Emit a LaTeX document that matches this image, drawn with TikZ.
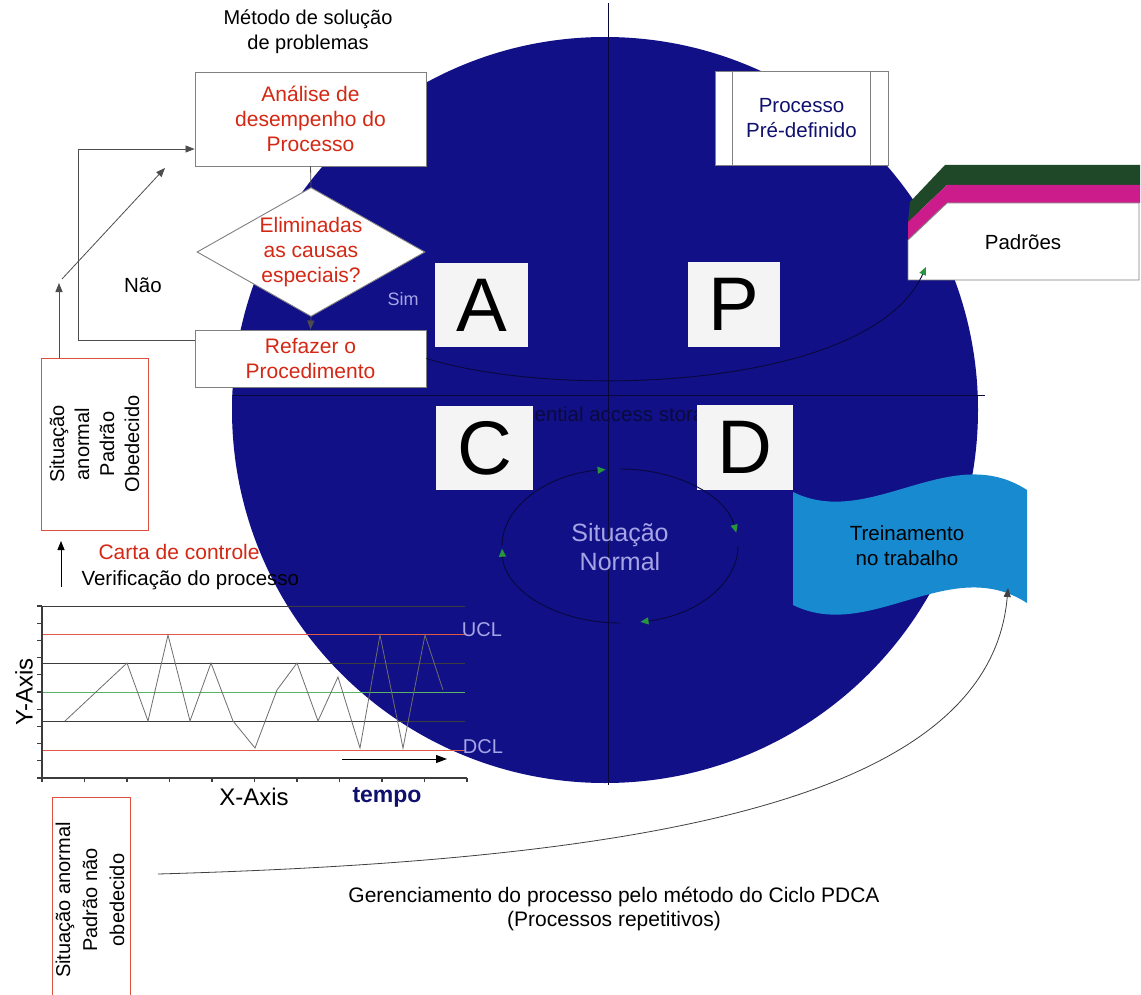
\documentclass[tikz,border=0pt]{standalone}
\usepackage{fontspec}
\setmainfont{Liberation Sans}
\usetikzlibrary{arrows.meta,shapes.geometric,calc}
\definecolor{navy}{RGB}{18,16,135}
\definecolor{navyline}{RGB}{8,8,60}
\definecolor{redtxt}{RGB}{212,40,20}
\definecolor{boxgray}{RGB}{128,128,128}
\definecolor{lilac}{RGB}{165,165,230}
\definecolor{darknavy}{RGB}{16,16,110}
\definecolor{tipgreen}{RGB}{40,150,60}
\definecolor{bandgreen}{RGB}{30,72,40}
\definecolor{bandmag}{RGB}{204,28,140}
\definecolor{wavecol}{RGB}{24,138,208}
\definecolor{redline}{RGB}{224,90,70}
\definecolor{greenline}{RGB}{90,180,100}
\definecolor{redbox}{RGB}{220,80,60}
\definecolor{lettbg}{RGB}{244,244,244}
\definecolor{gridcol}{RGB}{60,60,60}
\definecolor{zigcol}{RGB}{110,110,110}
\definecolor{hidtxt}{RGB}{10,10,62}
\newcommand{\myfs}[2]{\fontsize{#1}{#2}\selectfont}
\begin{document}
\begin{tikzpicture}[x=1pt,y=-1pt,
  box/.style={draw=boxgray, fill=white, line width=0.9pt, inner sep=0pt, align=center},
  redt/.style={text=redtxt, font=\myfs{21}{25}, align=center},
  blk/.style={text=black, font=\myfs{20.5}{25}, align=center},
  lil/.style={text=lilac, font=\myfs{20}{25}, align=center},
  lett/.style={fill=lettbg, inner sep=0pt, font=\myfs{76}{76}},
  conn/.style={draw=boxgray!60!black, line width=0.8pt},
  tip/.style={-{Triangle[length=9pt,width=7pt]}},
  gtip/.style={-{Triangle[length=8pt,width=7pt,color=tipgreen]}},
  cyc/.style={draw=navyline, line width=0.9pt, gtip},
  grid/.style={draw=gridcol, line width=0.8pt},
  axis/.style={draw=gridcol, line width=1.1pt},
  zig/.style={draw=zigcol, line width=0.8pt},
  redbx/.style={draw=redbox, fill=white, line width=0.9pt, inner sep=0pt}
]
\useasboundingbox[fill=white] (0,0) rectangle (1141,995);

% big circle
\fill[navy] (605,410) circle[radius=373pt];
\draw[navyline, line width=1pt] (608,3) -- (608,785);
\draw[navyline, line width=1pt] (232,395) -- (985,395);

% hidden text
\node[text=hidtxt, font=\myfs{20.5}{25}] (hid) at (607,416) {Sequential access storage};

% PDCA letters
\node[lett, minimum width=93pt, minimum height=84pt] (A) at (481.5,305) {A};
\node[lett, minimum width=92pt, minimum height=85pt] (P) at (734,304.5) {P};
\node[lett, minimum width=97pt, minimum height=84pt] (C) at (484.5,448) {C};
\node[lett, minimum width=96pt, minimum height=85pt] (D) at (745,447.5) {D};

% normal cycle
\coordinate (ec) at (620,546);
\draw[cyc] ([shift={(180:118pt and 77pt)}]ec) arc[start angle=180, end angle=97, x radius=118pt, y radius=77pt];
\draw[cyc] ([shift={(90:118pt and 77pt)}]ec) arc[start angle=90, end angle=10, x radius=118pt, y radius=77pt];
\draw[cyc] ([shift={(0:118pt and 77pt)}]ec) arc[start angle=0, end angle=-80, x radius=118pt, y radius=77pt];
\draw[cyc] ([shift={(-90:118pt and 77pt)}]ec) arc[start angle=-90, end angle=-178, x radius=118pt, y radius=77pt];
\node[lil, font=\myfs{25}{29}] (sn) at (620,547) {Situação\\Normal};

% flowchart
\node[text=black, font=\myfs{20}{25}, align=center] (tit) at (308,32) {Método de solução\\de problemas};
\node[box, redt, minimum width=231pt, minimum height=94pt] (ana) at (310.5,119) {Análise de\\desempenho do\\Processo};
\node[diamond, draw=boxgray, fill=white, line width=0.9pt, minimum width=228pt, minimum height=129pt, inner sep=0pt] (dia) at (311,252) {};
\node[redt] (diat) at (dia.center) {Eliminadas\\as causas\\especiais?};
\node[box, redt, minimum width=231pt, minimum height=57pt] (ref) at (310.5,358.5) {Refazer o\\Procedimento};
\draw[conn] (ana.south) -- (dia.north);
\draw[conn, tip] (dia.south) -- (ref.north);
\draw[conn, tip] ([yshift=18pt]ref.west) -- ++(-116,0) |- ([yshift=-30pt]ana.west);
\node[text=lilac, font=\myfs{18}{22}] (sim) at (403,299) {Sim};
\node[blk] (nao) at (143,285) {Não};

% Padroes
\coordinate (padarr) at (926,267);
\fill[bandgreen] (910,202) -- (945,165) -- (1140,165) -- (1140,185) -- (947,185) -- (908,222) -- cycle;
\fill[bandmag] (908,222) -- (947,185) -- (1140,185) -- (1140,203) -- (947,203) -- (908,240) -- cycle;
\filldraw[fill=white, draw=boxgray, line width=0.9pt] (908,240) -- (947,203) -- (1139,203) -- (1139,280) -- (908,280) -- cycle;
\node[blk] (pad) at (1023,242) {Padrões};
\draw[draw=navyline, line width=0.9pt, gtip] (ref.east) .. controls (560,400) and (870,390) .. (padarr);

% Processo pre-definido
\node[box, minimum width=173pt, minimum height=94pt, text=darknavy, font=\myfs{20.5}{25}] (pp) at (801.5,118) {Processo\\Pré-definido};
\draw[draw=boxgray, line width=0.9pt] ([xshift=18pt]pp.north west) -- ([xshift=18pt]pp.south west);
\draw[draw=boxgray, line width=0.9pt] ([xshift=-18pt]pp.north east) -- ([xshift=-18pt]pp.south east);

% Treinamento wave
\fill[wavecol] (793,492) .. controls (870,530) and (950,440) .. (1027,490) -- (1027,603) .. controls (950,553) and (870,643) .. (793,605) -- cycle;
\node[blk] (tr) at (907,546) {Treinamento\\no trabalho};
\coordinate (trarr) at (1008,588);

% Situacao anormal, padrao obedecido
\node[redbx, minimum width=107pt, minimum height=172pt] (sa1) at (94.5,444) {};
\node[blk, font=\myfs{20}{25}, rotate=90] (sa1t) at (sa1.center) {Situação\\anormal\\Padrão\\Obedecido};
\coordinate (n1) at (59,283);
\draw[conn, tip] ([xshift=-35.5pt]sa1.north) -- (n1);
\coordinate (d1) at (62,279);
\coordinate (d2) at (165,168);
\draw[conn, tip] (d1) -- (d2);
\coordinate (v1) at (61,587);
\coordinate (v2) at (61,541);
\draw[draw=black, line width=0.8pt, tip] (v1) -- (v2);
\node[text=redtxt, font=\myfs{21}{25}, anchor=west] (carta) at (95,552) {Carta de controle};
\node[text=black, font=\myfs{20.5}{25}, anchor=west] (verif) at (78,580) {Verificação do processo};

% control chart
\draw[grid] (42,606) -- (465,606);
\draw[grid, draw=redline] (42,634) -- (465,634);
\draw[grid] (42,663) -- (465,663);
\draw[grid, draw=greenline] (42,692) -- (465,692);
\draw[grid] (42,721) -- (465,721);
\draw[grid, draw=redline] (42,750) -- (465,750);
\draw[axis] (42,606) -- (42,778) -- (467,778);
\foreach \i in {0,...,10} \draw[axis] (37,{606+17.2*\i}) -- (42,{606+17.2*\i});
\foreach \i in {0,...,10} \draw[axis] ({42+42.5*\i},778) -- ++(0,4);
\draw[zig] (65,721) -- (127,663) -- (148,721) -- (168,635) -- (190,721) -- (211,663) -- (233,721) -- (255,748) -- (277,690) -- (297,663) -- (318,721) -- (338,677) -- (360,748) -- (380,635) -- (403,748) -- (425,635) -- (443,690);
\coordinate (ca1) at (342,759);
\coordinate (ca2) at (447,759);
\draw[draw=black, line width=1pt, -{Triangle[length=11pt,width=8pt]}] (ca1) -- (ca2);
\node[lil] (ucl) at (482,630) {UCL};
\node[lil] (dcl) at (483,747) {DCL};
\node[text=black, font=\myfs{24}{24}, rotate=90] (yax) at (24,692) {Y-Axis};
\node[text=black, font=\myfs{24}{24}] (xax) at (254,797) {X-Axis};
\node[text=darknavy, font=\bfseries\myfs{23}{23}] (tempo) at (387,797) {tempo};

% Situacao anormal, padrao nao obedecido
\node[redbx, minimum width=78pt, minimum height=210pt] (sa2) at (91,902) {};
\node[blk, font=\myfs{20}{27}, rotate=90] (sa2t) at (90,900) {Situação anormal\\Padrão não\\obedecido};

% long curve
\coordinate (lc0) at (158,874);
\draw[draw=black!75, line width=0.8pt, tip] (lc0) .. controls (650,860) and (990,800) .. (trarr);

\node[text=black, font=\myfs{21}{24}, align=center] (ger) at (614,909) {Gerenciamento do processo pelo método do Ciclo PDCA\\(Processos repetitivos)};
\end{tikzpicture}
\end{document}
